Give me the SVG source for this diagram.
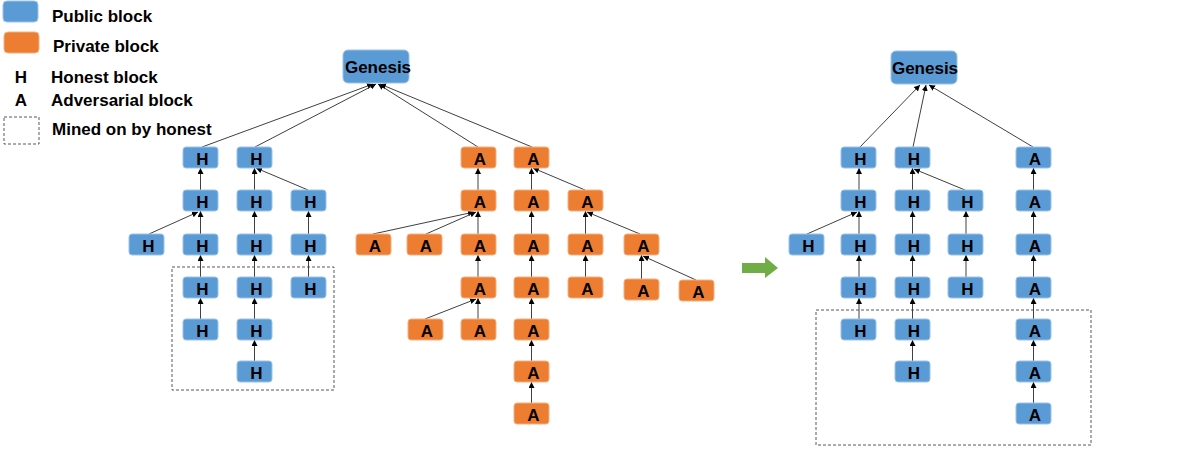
<svg xmlns="http://www.w3.org/2000/svg" width="1196" height="456" viewBox="0 0 1196 456">
<defs>
<style>
.pub{fill:#5B9BD5;stroke:#9DC3E6;stroke-width:1}
.pri{fill:#ED7D31;stroke:#F4B183;stroke-width:1}
.t{font-family:"Liberation Sans",Arial,sans-serif;font-weight:bold;font-size:17px;fill:#000}
.c{text-anchor:middle}
.e{stroke:#404040;stroke-width:1;fill:none;marker-end:url(#ah)}
.dash{fill:none;stroke:#595959;stroke-width:1;stroke-dasharray:3,2}
</style>
<marker id="ah" markerWidth="6" markerHeight="6" refX="6" refY="3" orient="auto" markerUnits="userSpaceOnUse"><path d="M0,0 L6,3 L0,6 z" fill="#000"/></marker>
</defs>
<rect width="1196" height="456" fill="#fff"/>

<g id="legend">
<rect class="pub" x="3" y="1" width="35" height="21" rx="4"/>
<text class="t" x="52" y="22">Public block</text>
<rect class="pri" x="4" y="32" width="35" height="21" rx="4"/>
<text class="t" x="53" y="52">Private block</text>
<text class="t c" x="21" y="83">H</text>
<text class="t" x="51" y="83">Honest block</text>
<text class="t c" x="21" y="106">A</text>
<text class="t" x="51" y="106">Adversarial block</text>
<rect class="dash" x="4" y="117" width="35" height="27"/>
<text class="t" x="52" y="135">Mined on by honest</text>
</g>

<g id="boxes">
<rect class="dash" x="172" y="267" width="162" height="123"/>
<rect class="dash" x="816" y="310" width="275" height="135"/>
</g>

<g id="arrow-green">
<polygon points="742,263 765,263 765,257 778,268 765,278 765,273 742,273" fill="#70AD47"/>
</g>

<g id="connectors">
<!-- left genesis -->
<line class="e" x1="202" y1="147" x2="373" y2="84"/>
<line class="e" x1="255" y1="147" x2="376" y2="84"/>
<line class="e" x1="478" y1="147" x2="378" y2="84"/>
<line class="e" x1="532" y1="147" x2="380" y2="84"/>
<!-- left H c1 -->
<line class="e" x1="200.5" y1="190" x2="200.5" y2="168"/>
<line class="e" x1="200.5" y1="234" x2="200.5" y2="211"/>
<line class="e" x1="200.5" y1="277" x2="200.5" y2="255"/>
<line class="e" x1="200.5" y1="319" x2="200.5" y2="298"/>
<line class="e" x1="149" y1="234" x2="198" y2="212"/>
<!-- left H c2 -->
<line class="e" x1="254.5" y1="190" x2="254.5" y2="168"/>
<line class="e" x1="254.5" y1="234" x2="254.5" y2="211"/>
<line class="e" x1="254.5" y1="277" x2="254.5" y2="255"/>
<line class="e" x1="254.5" y1="319" x2="254.5" y2="298"/>
<line class="e" x1="254.5" y1="361" x2="254.5" y2="340"/>
<line class="e" x1="308" y1="190" x2="256" y2="168"/>
<!-- left H c3 -->
<line class="e" x1="308.5" y1="234" x2="308.5" y2="211"/>
<line class="e" x1="308.5" y1="277" x2="308.5" y2="255"/>
<!-- A a1 -->
<line class="e" x1="478" y1="190" x2="478" y2="168"/>
<line class="e" x1="478" y1="234" x2="478" y2="211"/>
<line class="e" x1="478" y1="277" x2="478" y2="255"/>
<line class="e" x1="478" y1="319" x2="478" y2="298"/>
<line class="e" x1="373" y1="234" x2="474" y2="212"/>
<line class="e" x1="426" y1="234" x2="476" y2="212"/>
<line class="e" x1="425" y1="319" x2="476" y2="299"/>
<!-- A a2 -->
<line class="e" x1="531.5" y1="190" x2="531.5" y2="168"/>
<line class="e" x1="531.5" y1="234" x2="531.5" y2="211"/>
<line class="e" x1="531.5" y1="277" x2="531.5" y2="255"/>
<line class="e" x1="531.5" y1="319" x2="531.5" y2="298"/>
<line class="e" x1="531.5" y1="361" x2="531.5" y2="340"/>
<line class="e" x1="531.5" y1="403" x2="531.5" y2="382"/>
<line class="e" x1="585" y1="190" x2="533" y2="168"/>
<!-- A a3 -->
<line class="e" x1="585.5" y1="234" x2="585.5" y2="211"/>
<line class="e" x1="585.5" y1="277" x2="585.5" y2="255"/>
<line class="e" x1="640" y1="234" x2="587" y2="212"/>
<!-- A a4 -->
<line class="e" x1="641.5" y1="279" x2="641.5" y2="255"/>
<line class="e" x1="696" y1="280" x2="643" y2="256"/>
<!-- right genesis -->
<line class="e" x1="860" y1="147" x2="920" y2="85"/>
<line class="e" x1="913" y1="147" x2="926" y2="85"/>
<line class="e" x1="1033" y1="147" x2="929" y2="85"/>
<!-- right b1 -->
<line class="e" x1="859" y1="190" x2="859" y2="168"/>
<line class="e" x1="859" y1="234" x2="859" y2="211"/>
<line class="e" x1="859" y1="277" x2="859" y2="255"/>
<line class="e" x1="859" y1="319" x2="859" y2="298"/>
<line class="e" x1="807" y1="234" x2="857" y2="212"/>
<!-- right b2 -->
<line class="e" x1="912.5" y1="190" x2="912.5" y2="168"/>
<line class="e" x1="912.5" y1="234" x2="912.5" y2="211"/>
<line class="e" x1="912.5" y1="277" x2="912.5" y2="255"/>
<line class="e" x1="912.5" y1="319" x2="912.5" y2="298"/>
<line class="e" x1="912.5" y1="361" x2="912.5" y2="340"/>
<line class="e" x1="965" y1="190" x2="914" y2="169"/>
<!-- right b3 -->
<line class="e" x1="966" y1="234" x2="966" y2="211"/>
<line class="e" x1="966" y1="277" x2="966" y2="255"/>
<!-- right b4 -->
<line class="e" x1="1033.5" y1="190" x2="1033.5" y2="168"/>
<line class="e" x1="1033.5" y1="234" x2="1033.5" y2="211"/>
<line class="e" x1="1033.5" y1="277" x2="1033.5" y2="255"/>
<line class="e" x1="1033.5" y1="319" x2="1033.5" y2="298"/>
<line class="e" x1="1033.5" y1="361" x2="1033.5" y2="340"/>
<line class="e" x1="1033.5" y1="403" x2="1033.5" y2="382"/>
</g>

<g id="genesis-left"><rect class="pub" x="343" y="50" width="66" height="33" rx="5"/><text class="t c" x="378" y="73" font-size="17.5">Genesis</text></g>
<g id="genesis-right"><rect class="pub" x="891" y="51" width="66" height="33" rx="5"/><text class="t c" x="925" y="74" font-size="17.5">Genesis</text></g>

<!-- left honest nodes -->
<g id="L-c1-r1"><rect class="pub" x="183" y="147" width="35" height="21" rx="3"/><text class="t c" x="202.5" y="165">H</text></g>
<g id="L-c1-r2"><rect class="pub" x="183" y="190" width="35" height="21" rx="3"/><text class="t c" x="202.5" y="208">H</text></g>
<g id="L-c1-r3"><rect class="pub" x="183" y="234" width="35" height="21" rx="3"/><text class="t c" x="202.5" y="252">H</text></g>
<g id="L-c1-r4"><rect class="pub" x="183" y="277" width="35" height="21" rx="3"/><text class="t c" x="202.5" y="295">H</text></g>
<g id="L-c1-r5"><rect class="pub" x="183" y="319" width="35" height="21" rx="3"/><text class="t c" x="202.5" y="337">H</text></g>
<g id="L-lone-r3"><rect class="pub" x="129" y="234" width="35" height="21" rx="3"/><text class="t c" x="148.5" y="252">H</text></g>
<g id="L-c2-r1"><rect class="pub" x="237" y="147" width="35" height="21" rx="3"/><text class="t c" x="256.5" y="165">H</text></g>
<g id="L-c2-r2"><rect class="pub" x="237" y="190" width="35" height="21" rx="3"/><text class="t c" x="256.5" y="208">H</text></g>
<g id="L-c2-r3"><rect class="pub" x="237" y="234" width="35" height="21" rx="3"/><text class="t c" x="256.5" y="252">H</text></g>
<g id="L-c2-r4"><rect class="pub" x="237" y="277" width="35" height="21" rx="3"/><text class="t c" x="256.5" y="295">H</text></g>
<g id="L-c2-r5"><rect class="pub" x="237" y="319" width="35" height="21" rx="3"/><text class="t c" x="256.5" y="337">H</text></g>
<g id="L-c2-r6"><rect class="pub" x="237" y="361" width="35" height="21" rx="3"/><text class="t c" x="256.5" y="379">H</text></g>
<g id="L-c3-r2"><rect class="pub" x="291" y="190" width="35" height="21" rx="3"/><text class="t c" x="310.5" y="208">H</text></g>
<g id="L-c3-r3"><rect class="pub" x="291" y="234" width="35" height="21" rx="3"/><text class="t c" x="310.5" y="252">H</text></g>
<g id="L-c3-r4"><rect class="pub" x="291" y="277" width="35" height="21" rx="3"/><text class="t c" x="310.5" y="295">H</text></g>

<!-- private adversarial nodes -->
<g id="A-a1-r1"><rect class="pri" x="461" y="147" width="35" height="21" rx="3"/><text class="t c" x="480" y="165">A</text></g>
<g id="A-a1-r2"><rect class="pri" x="461" y="190" width="35" height="21" rx="3"/><text class="t c" x="480" y="208">A</text></g>
<g id="A-a1-r3"><rect class="pri" x="461" y="234" width="35" height="21" rx="3"/><text class="t c" x="480" y="252">A</text></g>
<g id="A-a1-r4"><rect class="pri" x="461" y="277" width="35" height="21" rx="3"/><text class="t c" x="480" y="295">A</text></g>
<g id="A-a1-r5"><rect class="pri" x="461" y="319" width="35" height="21" rx="3"/><text class="t c" x="480" y="337">A</text></g>
<g id="A-fl-r3"><rect class="pri" x="356" y="234" width="35" height="21" rx="3"/><text class="t c" x="375" y="252">A</text></g>
<g id="A-a0-r3"><rect class="pri" x="407" y="234" width="35" height="21" rx="3"/><text class="t c" x="426" y="252">A</text></g>
<g id="A-a0-r5"><rect class="pri" x="408" y="319" width="35" height="21" rx="3"/><text class="t c" x="427" y="337">A</text></g>
<g id="A-a2-r1"><rect class="pri" x="514" y="147" width="35" height="21" rx="3"/><text class="t c" x="533.5" y="165">A</text></g>
<g id="A-a2-r2"><rect class="pri" x="514" y="190" width="35" height="21" rx="3"/><text class="t c" x="533.5" y="208">A</text></g>
<g id="A-a2-r3"><rect class="pri" x="514" y="234" width="35" height="21" rx="3"/><text class="t c" x="533.5" y="252">A</text></g>
<g id="A-a2-r4"><rect class="pri" x="514" y="277" width="35" height="21" rx="3"/><text class="t c" x="533.5" y="295">A</text></g>
<g id="A-a2-r5"><rect class="pri" x="514" y="319" width="35" height="21" rx="3"/><text class="t c" x="533.5" y="337">A</text></g>
<g id="A-a2-r6"><rect class="pri" x="514" y="361" width="35" height="21" rx="3"/><text class="t c" x="533.5" y="379">A</text></g>
<g id="A-a2-r7"><rect class="pri" x="514" y="403" width="35" height="21" rx="3"/><text class="t c" x="533.5" y="421">A</text></g>
<g id="A-a3-r2"><rect class="pri" x="568" y="190" width="35" height="21" rx="3"/><text class="t c" x="587.5" y="208">A</text></g>
<g id="A-a3-r3"><rect class="pri" x="568" y="234" width="35" height="21" rx="3"/><text class="t c" x="587.5" y="252">A</text></g>
<g id="A-a3-r4"><rect class="pri" x="568" y="277" width="35" height="21" rx="3"/><text class="t c" x="587.5" y="295">A</text></g>
<g id="A-a4-r3"><rect class="pri" x="624" y="234" width="35" height="21" rx="3"/><text class="t c" x="643.5" y="252">A</text></g>
<g id="A-a4-r4"><rect class="pri" x="624" y="279" width="35" height="21" rx="3"/><text class="t c" x="643.5" y="297">A</text></g>
<g id="A-a5-r4"><rect class="pri" x="679" y="280" width="35" height="21" rx="3"/><text class="t c" x="698.5" y="298">A</text></g>

<!-- right tree -->
<g id="R-b1-r1"><rect class="pub" x="841" y="147" width="35" height="21" rx="3"/><text class="t c" x="860.5" y="165">H</text></g>
<g id="R-b1-r2"><rect class="pub" x="841" y="190" width="35" height="21" rx="3"/><text class="t c" x="860.5" y="208">H</text></g>
<g id="R-b1-r3"><rect class="pub" x="841" y="234" width="35" height="21" rx="3"/><text class="t c" x="860.5" y="252">H</text></g>
<g id="R-b1-r4"><rect class="pub" x="841" y="277" width="35" height="21" rx="3"/><text class="t c" x="860.5" y="295">H</text></g>
<g id="R-b1-r5"><rect class="pub" x="841" y="319" width="35" height="21" rx="3"/><text class="t c" x="860.5" y="337">H</text></g>
<g id="R-lone-r3"><rect class="pub" x="789" y="234" width="35" height="21" rx="3"/><text class="t c" x="808.5" y="252">H</text></g>
<g id="R-b2-r1"><rect class="pub" x="895" y="147" width="35" height="21" rx="3"/><text class="t c" x="914" y="165">H</text></g>
<g id="R-b2-r2"><rect class="pub" x="895" y="190" width="35" height="21" rx="3"/><text class="t c" x="914" y="208">H</text></g>
<g id="R-b2-r3"><rect class="pub" x="895" y="234" width="35" height="21" rx="3"/><text class="t c" x="914" y="252">H</text></g>
<g id="R-b2-r4"><rect class="pub" x="895" y="277" width="35" height="21" rx="3"/><text class="t c" x="914" y="295">H</text></g>
<g id="R-b2-r5"><rect class="pub" x="895" y="319" width="35" height="21" rx="3"/><text class="t c" x="914" y="337">H</text></g>
<g id="R-b2-r6"><rect class="pub" x="895" y="361" width="35" height="21" rx="3"/><text class="t c" x="914" y="379">H</text></g>
<g id="R-b3-r2"><rect class="pub" x="948" y="190" width="35" height="21" rx="3"/><text class="t c" x="967.5" y="208">H</text></g>
<g id="R-b3-r3"><rect class="pub" x="948" y="234" width="35" height="21" rx="3"/><text class="t c" x="967.5" y="252">H</text></g>
<g id="R-b3-r4"><rect class="pub" x="948" y="277" width="35" height="21" rx="3"/><text class="t c" x="967.5" y="295">H</text></g>
<g id="R-b4-r1"><rect class="pub" x="1016" y="147" width="35" height="21" rx="3"/><text class="t c" x="1035" y="165">A</text></g>
<g id="R-b4-r2"><rect class="pub" x="1016" y="190" width="35" height="21" rx="3"/><text class="t c" x="1035" y="208">A</text></g>
<g id="R-b4-r3"><rect class="pub" x="1016" y="234" width="35" height="21" rx="3"/><text class="t c" x="1035" y="252">A</text></g>
<g id="R-b4-r4"><rect class="pub" x="1016" y="277" width="35" height="21" rx="3"/><text class="t c" x="1035" y="295">A</text></g>
<g id="R-b4-r5"><rect class="pub" x="1016" y="319" width="35" height="21" rx="3"/><text class="t c" x="1035" y="337">A</text></g>
<g id="R-b4-r6"><rect class="pub" x="1016" y="361" width="35" height="21" rx="3"/><text class="t c" x="1035" y="379">A</text></g>
<g id="R-b4-r7"><rect class="pub" x="1016" y="403" width="35" height="21" rx="3"/><text class="t c" x="1035" y="421">A</text></g>
</svg>
